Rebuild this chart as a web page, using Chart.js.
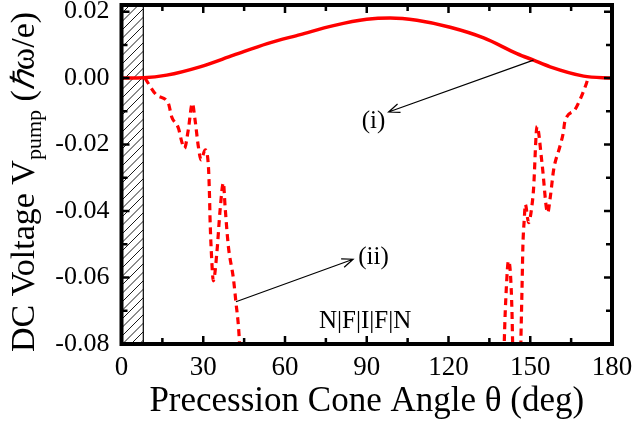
<!DOCTYPE html>
<html>
<head>
<meta charset="utf-8">
<script src="https://cdn.jsdelivr.net/npm/chart.js@4/dist/chart.umd.min.js"></script>
<style>
  html, body { margin: 0; padding: 0; background: #fff; }
  #wrap { width: 635px; height: 424px; }
</style>
</head>
<body>
<div id="wrap"><canvas id="pumpChart"></canvas></div>
<script>
// curve (i): solid
var thetaI = [0, 8, 16.6, 28.8, 41.1, 53.5, 65.6, 77.8, 90, 98.6, 108.4, 120.6, 132.9, 145.1, 151.2, 157.3, 169.6, 180];
var vI = [0, 0.0001, 0.0009, 0.0034, 0.0069, 0.0104, 0.0131, 0.0158, 0.0177, 0.0181, 0.0174, 0.0153, 0.0121, 0.0074, 0.0054, 0.0034, 0.0006, 0];

// curve (ii): dashed, left branch
var thetaIiLeft = [8.6, 12.9, 17.2, 18.4, 20.9, 22.1, 23.1, 24.5, 26.0, 27.0, 28.2, 29.2, 30.7, 31.9, 32.3, 32.5, 33.1, 33.7, 35.0, 36.2, 37.4, 38.0, 39.2, 41.1, 42.0, 42.9, 43.3, 44.0];
var vIiLeft = [0, -0.0051, -0.0076, -0.0116, -0.0151, -0.0191, -0.0211, -0.0156, -0.0076, -0.0126, -0.0206, -0.0246, -0.0216, -0.0266, -0.0355, -0.0425, -0.0545, -0.0610, -0.0525, -0.0395, -0.0315, -0.0385, -0.0505, -0.0605, -0.0675, -0.0745, -0.0795, -0.09];

// curve (ii): dashed, right branch
var thetaIiRight = [140.2, 140.5, 141.2, 142.0, 142.7, 143.3, 143.5, 143.8, 145.2, 146.3, 146.6, 147.0, 147.3, 147.8, 148.2, 149.4, 150.6, 151.2, 152.5, 154.3, 156.4, 157.4, 158.6, 160.9, 162.1, 162.7, 166.3, 168.2, 170.6, 171.2];
var vIiRight = [-0.09, -0.0785, -0.0635, -0.055, -0.0585, -0.0705, -0.0785, -0.09, -0.11, -0.09, -0.0775, -0.0625, -0.0505, -0.0425, -0.038, -0.0435, -0.0385, -0.0335, -0.0145, -0.0255, -0.0405, -0.0355, -0.0275, -0.0205, -0.0165, -0.0131, -0.0096, -0.0066, -0.0016, 0];

var xTicks = [0, 30, 60, 90, 120, 150, 180];
var yTicks = [-0.08, -0.06, -0.04, -0.02, 0.00, 0.02];
var hatchEnd = 8;

( function () {
	"use strict";

	var SERIF = "Liberation Serif, serif";

	// all text in the chart is serif
	Chart.defaults.font.family = SERIF;
	Chart.defaults.color = '#000';

	function toPoints( xs, ys ) {
		return xs.map( function ( x, i ) { return { x: x, y: ys[ i ] }; } );
	}

	function arrow( ctx, x1, y1, x2, y2 ) {
		var a = Math.atan2( y2 - y1, x2 - x1 );
		var L = 12, w = 0.38;
		ctx.beginPath();
		ctx.moveTo( x1, y1 );
		ctx.lineTo( x2, y2 );
		ctx.moveTo( x2 - L * Math.cos( a - w ), y2 - L * Math.sin( a - w ) );
		ctx.lineTo( x2, y2 );
		ctx.lineTo( x2 - L * Math.cos( a + w ), y2 - L * Math.sin( a + w ) );
		ctx.stroke();
	}

	// hatched region, frame, inward ticks, titles and labels
	var decor = {
		id: 'decor',
		beforeDatasetsDraw: function ( chart ) {
			var ctx = chart.ctx, a = chart.chartArea, xs = chart.scales.x;
			var x0 = xs.getPixelForValue( 0 ), x1 = xs.getPixelForValue( hatchEnd );
			var h = a.bottom - a.top;
			ctx.save();
			ctx.beginPath();
			ctx.rect( x0, a.top, x1 - x0, h );
			ctx.clip();
			ctx.strokeStyle = '#000';
			ctx.lineWidth = 0.9;
			ctx.beginPath();
			for ( var k = -h; k < ( x1 - x0 ) + 10; k += 8.5 ) {
				ctx.moveTo( x0 + k, a.bottom );
				ctx.lineTo( x0 + k + h, a.top );
			}
			ctx.stroke();
			ctx.restore();
			ctx.save();
			ctx.strokeStyle = '#000';
			ctx.lineWidth = 1.2;
			ctx.strokeRect( x0, a.top, x1 - x0, h );
			ctx.restore();
		},
		afterDraw: function ( chart ) {
			var ctx = chart.ctx, a = chart.chartArea;
			var xs = chart.scales.x, ys = chart.scales.y;
			var v, p, len;
			ctx.save();
			ctx.strokeStyle = '#000';
			ctx.lineWidth = 2.5;
			ctx.beginPath();
			for ( v = 15; v < 180; v += 15 ) {
				p = xs.getPixelForValue( v );
				len = ( v % 30 === 0 ) ? 8 : 6;
				ctx.moveTo( p, a.bottom ); ctx.lineTo( p, a.bottom - len );
				ctx.moveTo( p, a.top ); ctx.lineTo( p, a.top + len );
			}
			for ( v = -7; v <= 2; v++ ) {
				p = ys.getPixelForValue( v / 100 );
				len = ( v % 2 === 0 ) ? 8 : 6;
				ctx.moveTo( a.left, p ); ctx.lineTo( a.left + len, p );
				ctx.moveTo( a.right, p ); ctx.lineTo( a.right - len, p );
			}
			ctx.stroke();
			ctx.lineWidth = 4;
			ctx.strokeRect( a.left, a.top, a.right - a.left, a.bottom - a.top );

			// annotations
			ctx.lineWidth = 1.2;
			arrow( ctx, xs.getPixelForValue( 151.2 ), ys.getPixelForValue( 0.0054 ),
				xs.getPixelForValue( 98.0 ), ys.getPixelForValue( -0.0102 ) );
			arrow( ctx, xs.getPixelForValue( 42.0 ), ys.getPixelForValue( -0.0673 ),
				xs.getPixelForValue( 85.0 ), ys.getPixelForValue( -0.0545 ) );
			ctx.fillStyle = '#000';
			ctx.textAlign = 'center';
			ctx.textBaseline = 'middle';
			ctx.font = '25px ' + SERIF;
			ctx.fillText( '(i)', xs.getPixelForValue( 92.5 ), ys.getPixelForValue( -0.0131 ) );
			ctx.fillText( '(ii)', xs.getPixelForValue( 92.5 ), ys.getPixelForValue( -0.0541 ) );
			ctx.fillText( 'N|F|I|F|N', xs.getPixelForValue( 89.4 ), ys.getPixelForValue( -0.0731 ) );

			// x title
			ctx.textBaseline = 'alphabetic';
			ctx.font = '35px ' + SERIF;
			ctx.fillText( 'Precession Cone Angle \u03b8 (deg)', ( a.left + a.right ) / 2, 411 );

			// y title with subscript
			var parts = [
				{ t: 'DC Voltage V', f: '34px ' + SERIF, dy: 0 },
				{ t: 'pump', f: '22px ' + SERIF, dy: 7 },
				{ t: ' (', f: '34px ' + SERIF, dy: 0 },
				{ t: '\u210f', f: 'italic 32px ' + SERIF, dy: 0 },
				{ t: '\u03c9/e)', f: '34px ' + SERIF, dy: 0 }
			];
			var total = 0;
			parts.forEach( function ( q ) { ctx.font = q.f; q.w = ctx.measureText( q.t ).width; total += q.w; } );
			ctx.translate( 34, 182 );
			ctx.rotate( -Math.PI / 2 );
			ctx.textAlign = 'left';
			var cx = -total / 2;
			parts.forEach( function ( q ) { ctx.font = q.f; ctx.fillText( q.t, cx, q.dy ); cx += q.w; } );
			ctx.restore();
		}
	};

	var ctx = document.getElementById( "pumpChart" );

	var myChart = new Chart( ctx, {
		type: 'line',
		data: {
			datasets: [ {
				label: '(i)',
				data: toPoints( thetaI, vI ),
				borderColor: '#ff0000',
				borderWidth: 3.5,
				cubicInterpolationMode: 'monotone',
				pointRadius: 0,
				clip: 0
			}, {
				label: '(ii)',
				data: toPoints( thetaIiLeft, vIiLeft ),
				borderColor: '#ff0000',
				borderWidth: 3.2,
				borderDash: [ 7, 5 ],
				cubicInterpolationMode: 'monotone',
				pointRadius: 0,
				clip: 0
			}, {
				label: '(ii) right',
				data: toPoints( thetaIiRight, vIiRight ),
				borderColor: '#ff0000',
				borderWidth: 3.2,
				borderDash: [ 7, 5 ],
				cubicInterpolationMode: 'monotone',
				pointRadius: 0,
				clip: 0
			} ]
		},
		options: {
			responsive: true,
			maintainAspectRatio: false,
			animation: false,
			layout: { padding: { top: 5, right: 23, left: 0, bottom: 0 } },
			plugins: {
				legend: { display: false },
				tooltip: { enabled: false }
			},
			scales: {
				x: {
					type: 'linear',
					min: 0,
					max: 180,
					grid: { display: false, drawTicks: false },
					border: { display: false },
					ticks: {
						padding: 8,
						color: '#000',
						font: { family: SERIF, size: 27 },
						maxRotation: 0
					},
					afterBuildTicks: function ( s ) { s.ticks = xTicks.map( function ( v ) { return { value: v }; } ); },
					afterFit: function ( s ) { s.height = 80; s.paddingLeft = 0; s.paddingRight = 0; }
				},
				y: {
					min: -0.08,
					max: 0.022,
					grid: { display: false, drawTicks: false },
					border: { display: false },
					ticks: {
						padding: 12,
						color: '#000',
						font: { family: SERIF, size: 26 },
						callback: function ( v ) { return Number( v ).toFixed( 2 ); }
					},
					afterBuildTicks: function ( s ) { s.ticks = yTicks.map( function ( v ) { return { value: v }; } ); },
					afterFit: function ( s ) { s.width = 121.5; s.paddingTop = 0; s.paddingBottom = 0; }
				}
			}
		},
		plugins: [ decor ]
	} );

} )();
</script>
</body>
</html>
